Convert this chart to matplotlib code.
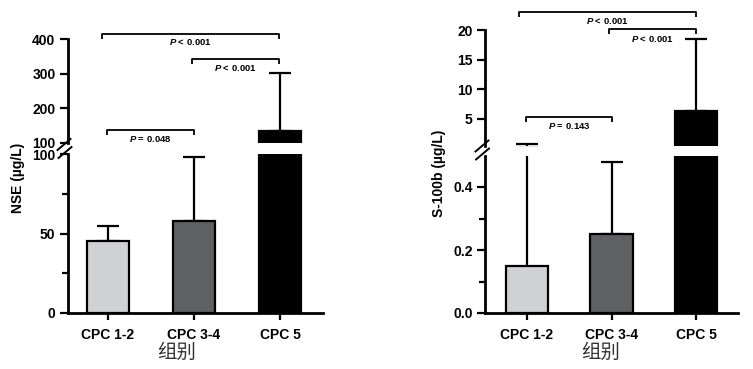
import matplotlib
matplotlib.use('Agg')
import matplotlib.pyplot as plt
from matplotlib.lines import Line2D

# ---------------- data ----------------
categories = ['CPC 1-2', 'CPC 3-4', 'CPC 5']
nse_mean = [45, 58, 135]
nse_err_top = [55, 98, 303]
s100b_mean = [0.15, 0.25, 6.4]
s100b_err_top = [0.8, 0.48, 18.5]

nse_lower_ticks = [0, 50, 100]
nse_lower_minor = [25, 75]
nse_upper_ticks = [100, 200, 300, 400]
s100b_lower_ticks = [0.0, 0.2, 0.4]
s100b_lower_minor = [0.1, 0.3]
s100b_upper_ticks = [5, 10, 15, 20]

nse_pvals = ['P < 0.001', 'P < 0.001', 'P = 0.048']
s100b_pvals = ['P < 0.001', 'P < 0.001', 'P = 0.143']

xlabel_text = '组别'
nse_ylabel = 'NSE (µg/L)'
s100b_ylabel = 'S-100b (µg/L)'

# ---------------- style ----------------
bar_colors = ['#d0d1d3', '#5f6062', '#000000']
plt.rcParams['font.family'] = ['Liberation Sans', 'DejaVu Sans']
plt.rcParams['font.weight'] = 'bold'
plt.rcParams['mathtext.fontset'] = 'custom'
plt.rcParams['mathtext.it'] = 'Liberation Sans:italic:bold'
plt.rcParams['mathtext.rm'] = 'Liberation Sans:bold'

W, H = 753, 369
fig = plt.figure(figsize=(W / 100, H / 100), dpi=100)


def fx(px):
    return px / W


def fy(py):
    return 1 - py / H


def make_axes(left, right, top, bottom):
    return fig.add_axes([fx(left), fy(bottom), fx(right) - fx(left), fy(top) - fy(bottom)])


def style_common(ax):
    for s in ['top', 'right']:
        ax.spines[s].set_visible(False)
    ax.spines['left'].set_linewidth(2)
    ax.spines['bottom'].set_linewidth(2)
    ax.tick_params(axis='y', which='major', length=6, width=1.6, labelsize=10, pad=3)
    ax.tick_params(axis='y', which='minor', length=4, width=1.6)
    ax.set_facecolor('none')


def draw_bars(ax, means, tops, width, ylim):
    for i, (m, t) in enumerate(zip(means, tops)):
        # only the parts of each bar / error bar that reach into this axis segment
        if m > ylim[0]:
            ax.bar([i], [m], width=width, color=bar_colors[i], edgecolor='black',
                   linewidth=1.6, zorder=3)
        if t <= ylim[0]:
            continue
        cap = 8 if ylim[0] < t <= ylim[1] else 0
        ax.errorbar([i], [m], yerr=[[0], [t - m]], fmt='none', ecolor='black',
                    elinewidth=1.6, capsize=cap, capthick=1.6, zorder=2)


def panel(left, right, low_top, up_bottom, up_top, means, tops, lo_lim, up_lim,
          lo_ticks, lo_minor, up_ticks, width, xlim, fmt):
    ax_lo = make_axes(left, right, low_top, 313)
    ax_up = make_axes(left, right, up_top, up_bottom)
    for ax, lim in ((ax_lo, lo_lim), (ax_up, up_lim)):
        style_common(ax)
        draw_bars(ax, means, tops, width, lim)
        ax.set_xlim(*xlim)
        ax.set_ylim(*lim)
    ax_lo.set_yticks(lo_ticks)
    ax_lo.set_yticks(lo_minor, minor=True)
    ax_lo.set_yticklabels([fmt(v) for v in lo_ticks])
    ax_lo.set_xticks(range(len(categories)))
    ax_lo.set_xticklabels(categories)
    ax_lo.tick_params(axis='x', length=5, width=1.6, labelsize=10, pad=6)
    ax_up.set_yticks(up_ticks)
    ax_up.set_yticklabels([fmt(v) for v in up_ticks])
    ax_up.spines['bottom'].set_visible(False)
    ax_up.set_xticks([])
    return ax_lo, ax_up


def bracket(ax, x1, x2, y, text, drop_px=5, text_px=9):
    span = ax.get_ylim()[1] - ax.get_ylim()[0]
    d = drop_px * span / ax.bbox.height
    ax.plot([x1, x1, x2, x2], [y - d, y, y, y - d], color='black', lw=1.3,
            clip_on=False, solid_capstyle='butt', zorder=5)
    t = text.replace('P', r'$\mathit{P}$', 1)
    ax.annotate(t, xy=((x1 + x2) / 2, y), xytext=(0, -text_px), textcoords='offset pixels',
                ha='center', va='center', fontsize=6.8, fontweight='bold',
                annotation_clip=False)


# ---------------- left panel (NSE) ----------------
l_lo, l_up = panel(68, 322.7, 154, 142.7, 39.3, nse_mean, nse_err_top,
                   (0, 100), (100, 400), nse_lower_ticks, nse_lower_minor, nse_upper_ticks,
                   0.49, (-0.465, 2.497), lambda v: f'{v:g}')
bracket(l_up, -0.07, 1.99, 415, nse_pvals[0], text_px=8)
bracket(l_up, 0.98, 1.99, 343, nse_pvals[1])
bracket(l_up, -0.01, 1.0, 137, nse_pvals[2])

# ---------------- right panel (S-100b) ----------------
r_lo, r_up = panel(485, 738, 155.5, 145.7, 30, s100b_mean, s100b_err_top,
                   (0, 0.5), (0.5, 20), s100b_lower_ticks, s100b_lower_minor, s100b_upper_ticks,
                   0.5, (-0.497, 2.497),
                   lambda v: f'{v:.1f}' if v < 1 else f'{v:g}')
bracket(r_up, -0.09, 2.0, 23.1, s100b_pvals[0])
bracket(r_up, 0.97, 2.0, 20.1, s100b_pvals[1], text_px=9.7)
bracket(r_up, -0.01, 1.01, 5.35, s100b_pvals[2], text_px=8.7)

# ---------------- break marks ----------------
for cx, cy in [(64, 144.5), (65, 152.5), (482, 146), (482.5, 154)]:
    fig.add_artist(Line2D([fx(cx - 6.5), fx(cx + 6.5)], [fy(cy + 5.5), fy(cy - 5.5)],
                          transform=fig.transFigure, color='black', lw=1.4))

# ---------------- labels ----------------
fig.text(fx(18), fy(178), nse_ylabel, rotation=90, ha='center', va='center',
         fontsize=10, fontweight='bold')
fig.text(fx(439), fy(173.5), s100b_ylabel, rotation=90, ha='center', va='center',
         fontsize=10, fontweight='bold')
for cx in (177, 601):
    fig.text(fx(cx), fy(352), xlabel_text, ha='center', va='center', fontsize=14,
             fontweight='normal', color='#333333', family=['Noto Sans CJK SC', 'DejaVu Sans'])

fig.savefig('out.png', dpi=100, facecolor='white')
